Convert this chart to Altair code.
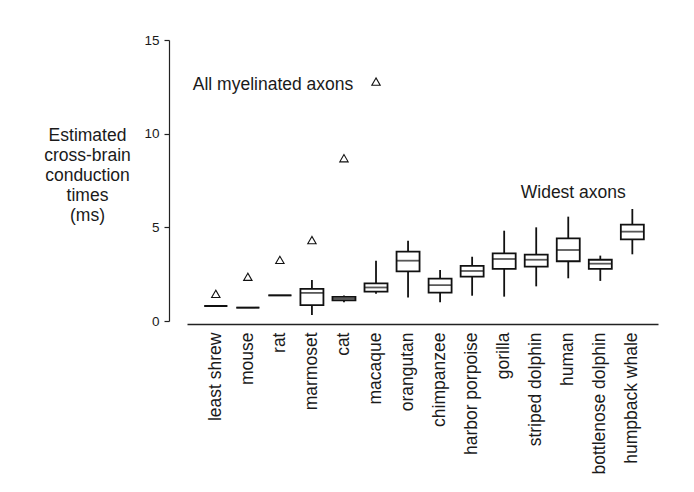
import altair as alt
import pandas as pd

species = ["least shrew", "mouse", "rat", "marmoset", "cat", "macaque", "orangutan",
           "chimpanzee", "harbor porpoise", "gorilla", "striped dolphin", "human",
           "bottlenose dolphin", "humpback whale"]
# Widest axons (box plots)
whisker_low = [0.80, 0.71, 1.37, 0.32, 1.00, 1.46, 1.26, 1.00, 1.35, 1.30, 1.85, 2.28, 2.14, 3.56]
box_low = [0.80, 0.71, 1.37, 0.85, 1.10, 1.57, 2.65, 1.51, 2.37, 2.78, 2.90, 3.19, 2.78, 4.36]
median = [0.80, 0.71, 1.37, 1.50, 1.19, 1.79, 3.22, 1.91, 2.67, 3.31, 3.27, 3.79, 3.06, 4.77]
box_high = [0.80, 0.71, 1.37, 1.72, 1.29, 2.01, 3.70, 2.26, 2.94, 3.61, 3.54, 4.41, 3.27, 5.14]
whisker_high = [0.80, 0.71, 1.37, 2.19, 1.36, 3.22, 4.29, 2.72, 3.43, 4.82, 5.00, 5.57, 3.49, 5.98]
# All myelinated axons (triangles)
tri_species = ["least shrew", "mouse", "rat", "marmoset", "cat", "macaque"]
tri_values = [1.45, 2.36, 3.26, 4.32, 8.69, 12.78]
y_ticks = [0, 5, 10, 15]

box_df = pd.DataFrame({"species": species, "wlo": whisker_low, "q1": box_low,
                       "med": median, "q3": box_high, "whi": whisker_high})
tri_df = pd.DataFrame({"species": tri_species, "val": tri_values})
ann1 = pd.DataFrame({"species": ["least shrew"], "val": [12.6], "label": ["All myelinated axons"]})
ann2 = pd.DataFrame({"species": ["human"], "val": [6.85], "label": ["Widest axons"]})

FONT = "Liberation Sans"
INK = "#1a1a1a"

x_enc = alt.X("species:N", sort=species, title=None,
              scale=alt.Scale(paddingInner=0.282, paddingOuter=0.491, align=0.55),
              axis=alt.Axis(labelAngle=-90, labelFontSize=17.5, labelFont=FONT, labelColor=INK,
                            ticks=False, tickSize=0, labelPadding=8, offset=3,
                            domainColor="#222", domainWidth=1.6))
y_scale = alt.Scale(domain=[0, 15], nice=False, zero=True)
y_axis = alt.Axis(values=y_ticks, offset=18, grid=False, tickSize=5, tickColor="#222",
                  tickWidth=1.2, domainColor="#222", domainWidth=1.2,
                  labelFontSize=13.5, labelFont=FONT, labelColor=INK, labelPadding=5,
                  title=["Estimated", "cross-brain", "conduction", "times", "(ms)"],
                  titleAngle=0, titleAlign="center", titleBaseline="middle",
                  titleX=-82, titleY=95, titleLineHeight=20.2,
                  titleFont=FONT, titleFontSize=17.5, titleFontWeight="normal", titleColor=INK)

whiskers = alt.Chart(box_df).mark_rule(color="#111", strokeWidth=1.8).encode(
    x=x_enc, y=alt.Y("wlo:Q", scale=y_scale, axis=y_axis), y2="whi:Q")
boxes = alt.Chart(box_df).mark_bar(fill="white", stroke="#111", strokeWidth=1.8).encode(
    x=x_enc, y=alt.Y("q1:Q", scale=y_scale, axis=y_axis), y2="q3:Q")
medians = alt.Chart(box_df).mark_tick(color="#111", thickness=1.8, size=23).encode(
    x=x_enc, y=alt.Y("med:Q", scale=y_scale, axis=y_axis))
tris = alt.Chart(tri_df).mark_point(shape="triangle-up", filled=False, stroke="#111",
                                    strokeWidth=1.1, size=70, opacity=1).encode(
    x=x_enc, y=alt.Y("val:Q", scale=y_scale, axis=y_axis))
t1 = alt.Chart(ann1).mark_text(align="left", baseline="middle", dx=-23, font=FONT,
                               fontSize=17.5, color=INK).encode(
    x=x_enc, y=alt.Y("val:Q", scale=y_scale, axis=y_axis), text="label:N")
t2 = alt.Chart(ann2).mark_text(align="center", baseline="middle", dx=5, font=FONT,
                               fontSize=17.5, color=INK).encode(
    x=x_enc, y=alt.Y("val:Q", scale=y_scale, axis=y_axis), text="label:N")

chart = alt.layer(whiskers, boxes, medians, tris, t1, t2).properties(
    width=471, height=281,
    autosize=alt.AutoSizeParams(type="none"),
    padding={"left": 179, "top": 32, "right": 28, "bottom": 160},
    background="white",
).configure_view(stroke=None)

chart.save("out.html", embed_options={"renderer": "svg", "actions": False})
